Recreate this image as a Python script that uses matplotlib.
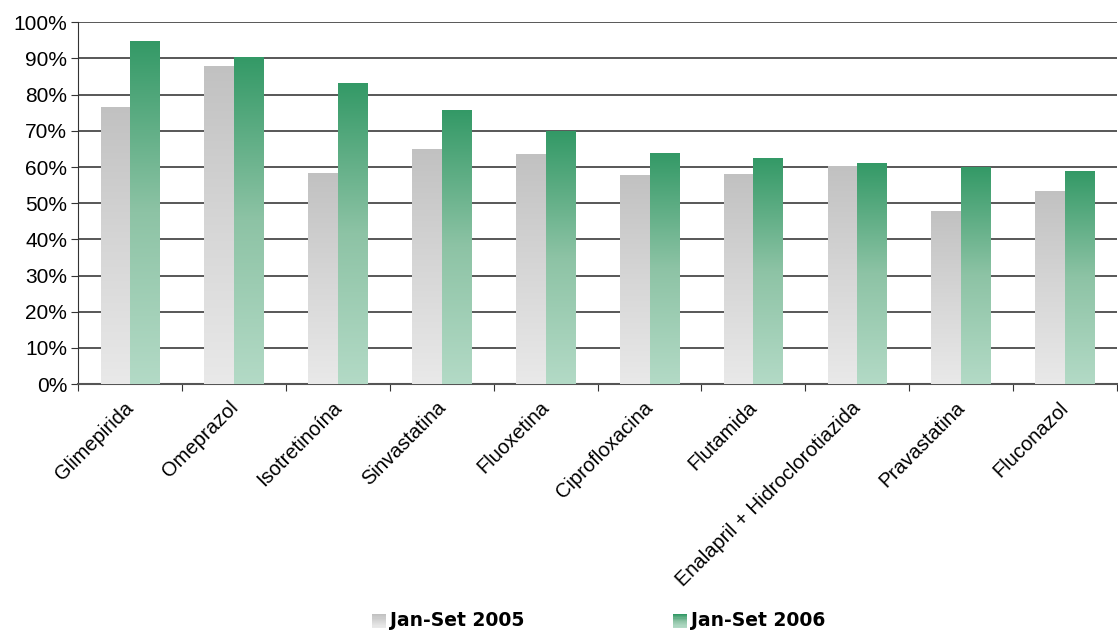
import numpy as np
import matplotlib.pyplot as plt
import matplotlib.transforms as mtransforms
from matplotlib.patches import Rectangle
from matplotlib.legend_handler import HandlerBase
from matplotlib.colors import LinearSegmentedColormap

plt.rcParams['font.family'] = ['Liberation Sans', 'DejaVu Sans']

farmacos = ['Glimepirida', 'Omeprazol', 'Isotretinoína', 'Sinvastatina', 'Fluoxetina',
            'Ciprofloxacina', 'Flutamida', 'Enalapril + Hidroclorotiazida',
            'Pravastatina', 'Fluconazol']
jan_set_2005 = [76.6, 87.9, 58.4, 65.0, 63.6, 57.8, 58.1, 60.3, 47.9, 53.4]
jan_set_2006 = [94.8, 90.4, 83.2, 75.8, 69.9, 63.9, 62.5, 61.1, 60.0, 58.9]
series_names = ['Jan-Set 2005', 'Jan-Set 2006']

# bottom -> top colours
gray_grad = LinearSegmentedColormap.from_list('g', ['#e9e9e9', '#d6d6d6', '#c1c1c1'])
green_grad = LinearSegmentedColormap.from_list('v', ['#b3dac6', '#8dc3a5', '#339966'])


def fill_gradient(ax, bars, cmap):
    grad = np.linspace(0, 1, 256).reshape(-1, 1)
    for b in bars:
        x0, y0 = b.get_x(), b.get_y()
        w, h = b.get_width(), b.get_height()
        im = ax.imshow(grad, cmap=cmap, origin='lower', aspect='auto',
                       extent=(x0, x0 + w, y0, y0 + h), zorder=3,
                       interpolation='bilinear')
        im.set_clip_path(b)


class GradHandler(HandlerBase):
    def __init__(self, cmap):
        super().__init__()
        self.cmap = cmap

    def create_artists(self, legend, orig_handle, xdescent, ydescent,
                       width, height, fontsize, trans):
        n = 12
        arts = []
        side = height * 1.05
        x0 = -xdescent + width - side
        for i in range(n):
            r = Rectangle((x0, -ydescent - 1 + side * i / n), side, side / n + 0.2,
                          facecolor=self.cmap(i / (n - 1)), edgecolor='none',
                          transform=trans)
            arts.append(r)
        return arts


fig = plt.figure(figsize=(11.18, 6.37), dpi=100)
ax = fig.add_axes([0.07, 0.397, 0.929, 0.568])

x = np.arange(len(farmacos))
w = 0.285
b1 = ax.bar(x - w / 2, jan_set_2005, w, facecolor='none', edgecolor='none', zorder=3)
b2 = ax.bar(x + w / 2, jan_set_2006, w, facecolor='none', edgecolor='none', zorder=3)
fill_gradient(ax, b1, gray_grad)
fill_gradient(ax, b2, green_grad)

ax.set_xlim(-0.5, len(farmacos) - 0.5)
ax.set_ylim(0, 100)
ax.set_yticks(np.arange(0, 101, 10))
ax.set_yticklabels([f'{v}%' for v in range(0, 101, 10)], fontsize=15)
ax.yaxis.grid(True, color='#2a2a2a', linewidth=1.1, zorder=1)
ax.set_axisbelow(True)

ax.set_xticks(np.arange(-0.5, len(farmacos), 1.0))
ax.set_xticklabels([])
ax.set_xticks(x, minor=True)
ax.set_xticklabels(farmacos, minor=True, rotation=45, ha='right',
                   rotation_mode='anchor', fontsize=14.5)
ax.tick_params(axis='x', which='minor', length=0, pad=10)
ax.tick_params(axis='x', which='major', length=5, color='#333333')
ax.tick_params(axis='y', length=5, color='#333333', pad=3)

# nudge the rotated labels a little to the left
shift = mtransforms.ScaledTranslation(-6 / 100, 0, fig.dpi_scale_trans)
for lbl in ax.get_xticklabels(minor=True):
    lbl.set_transform(lbl.get_transform() + shift)

for s in ['top', 'right']:
    ax.spines[s].set_visible(False)
ax.spines['left'].set_color('#333333')
ax.spines['bottom'].set_color('#555555')
ax.spines['bottom'].set_linewidth(1.5)

h1 = Rectangle((0, 0), 1, 1)
h2 = Rectangle((0, 0), 1, 1)
fig.legend([h1, h2], series_names, loc='lower center', ncol=2,
           bbox_to_anchor=(0.535, -0.016), frameon=False,
           handler_map={h1: GradHandler(gray_grad), h2: GradHandler(green_grad)},
           prop={'family': 'DejaVu Sans', 'weight': 'bold', 'size': 13.5},
           columnspacing=7.9, handlelength=0.8, handletextpad=0.2)

fig.savefig('out.png', dpi=100)
